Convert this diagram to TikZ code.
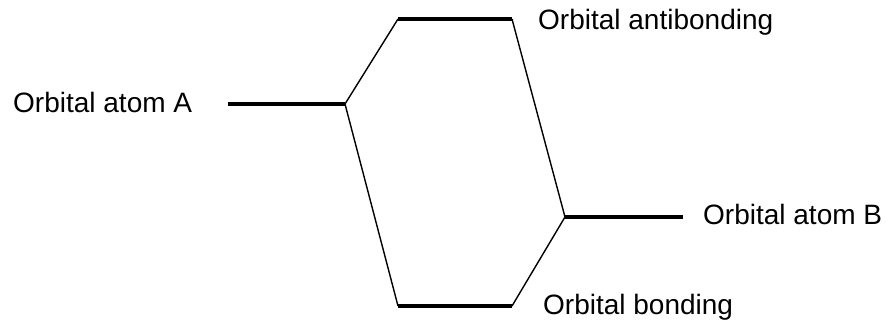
\documentclass[tikz,border=0pt]{standalone}
\usepackage{fontspec}
\setmainfont{Liberation Sans}
\begin{document}
\begin{tikzpicture}[x=1pt,y=-1pt,
  level/.style={line width=4pt},
  link/.style={line width=1.4pt},
  lbl/.style={inner sep=0pt,anchor=base west,font=\fontsize{28}{31}\selectfont}]
\useasboundingbox (0,0) rectangle (886,328);
% level endpoints
\coordinate (a1) at (228,104);
\coordinate (a2) at (345,104);
\coordinate (ab1) at (398,19);
\coordinate (ab2) at (512,19);
\coordinate (b1) at (565,217);
\coordinate (b2) at (683,217);
\coordinate (bo1) at (398,306);
\coordinate (bo2) at (512,306);
% levels
\draw[level] (a1) -- (a2);
\draw[level] (ab1) -- (ab2);
\draw[level] (b1) -- (b2);
\draw[level] (bo1) -- (bo2);
% connectors
\draw[link] (a2) -- (ab1);
\draw[link] (a2) -- (bo1);
\draw[link] (ab2) -- (b1);
\draw[link] (bo2) -- (b1);
% labels
\node[lbl] (la) at (13,113) {Orbital atom A};
\node[lbl] (lab) at (538,30) {Orbital antibonding};
\node[lbl] (lb) at (703,225) {Orbital atom B};
\node[lbl] (lbo) at (543,315) {Orbital bonding};
\end{tikzpicture}
\end{document}
